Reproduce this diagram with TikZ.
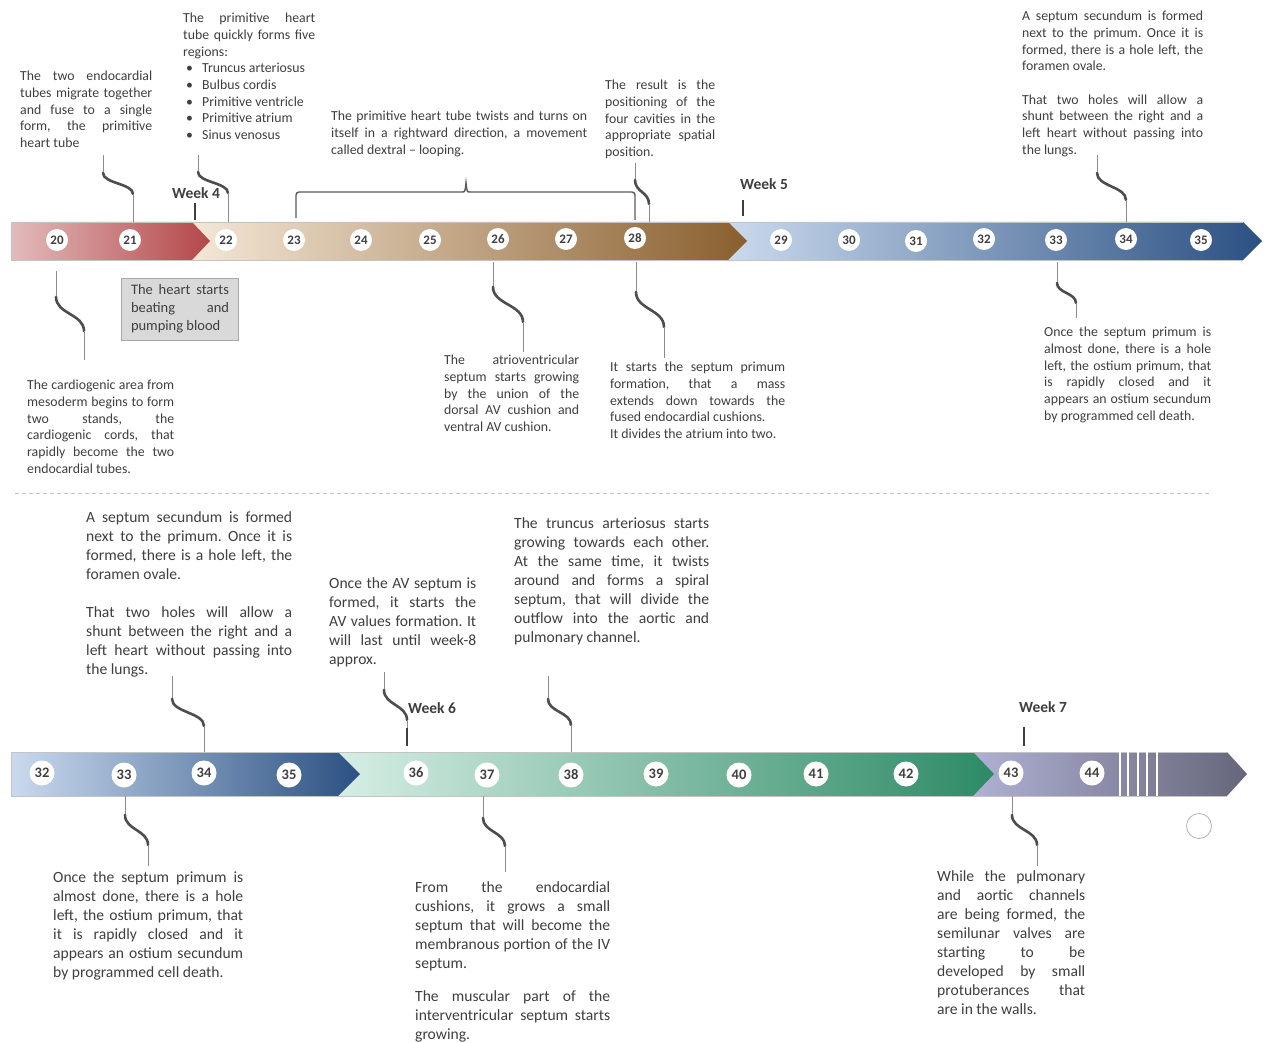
\documentclass[tikz,border=0pt]{standalone}
\usepackage{fontspec}
\setmainfont{Carlito}
\setlength{\parindent}{0pt}
\frenchspacing
\definecolor{txt}{HTML}{3F3F3F}
\definecolor{cthin}{HTML}{8C8C8C}
\definecolor{cthick}{HTML}{4D4D4D}
\definecolor{segln}{HTML}{C4C4C4}
\definecolor{redL}{HTML}{E3BBBB}
\definecolor{redR}{HTML}{B3474A}
\definecolor{begL}{HTML}{F4E7D7}
\definecolor{begR}{HTML}{8A5F2E}
\definecolor{bluL}{HTML}{CADAEE}
\definecolor{bluR}{HTML}{2B5082}
\definecolor{grnL}{HTML}{D6EEE5}
\definecolor{grnR}{HTML}{2D8A66}
\definecolor{purL}{HTML}{B0B0D4}
\definecolor{purR}{HTML}{66667A}
\definecolor{boxF}{HTML}{D9D9D9}
\definecolor{boxD}{HTML}{A6A6A6}
\definecolor{brc}{HTML}{5A5A5A}
\tikzset{
  tsmall/.style={anchor=north west, inner sep=0pt, text width=#1, align=justify,
    font=\fontsize{13.8}{16.7}\selectfont, text=txt},
  tbig/.style={anchor=north west, inner sep=0pt, text width=#1, align=justify,
    font=\fontsize{15.6}{19}\selectfont, text=txt},
  num/.style={circle, fill=white, inner sep=0pt, minimum size=22pt,
    font=\fontsize{13}{13}\selectfont\bfseries, text=txt},
  numb/.style={circle, fill=white, inner sep=0pt, minimum size=25pt,
    font=\fontsize{14.5}{14.5}\selectfont\bfseries, text=txt},
  thinc/.style={draw=cthin, line width=0.8pt},
  thickc/.style={draw=cthick, line width=2.6pt, line cap=round},
  wk/.style={font=\fontsize{15.5}{15.5}\selectfont\bfseries, text=txt, inner sep=0pt},
  wtick/.style={draw=txt, line width=2pt},
  segedge/.style={draw=segln, line width=0.8pt},
}
\newcommand\Sconn[6]{%
  \draw[thinc] (#1,#2) -- (#1,#3);
  \draw[thickc] (#1,#3) .. controls (#1,{(#3+#5)/2}) and (#4,{(#3+#5)/2}) .. (#4,#5);
  \draw[thinc] (#4,#5) -- (#4,#6);
}
\begin{document}
\begin{tikzpicture}[x=1pt,y=-1pt]
\useasboundingbox (0,0) rectangle (1264,1043);
\fill[white] (0,0) rectangle (1264,1043);

% ---------- top bar ----------
\shade[left color=bluL, right color=bluR] (728,222) -- (1243,222) -- (1262,241) -- (1243,260) -- (728,260) -- cycle;
\shade[left color=begL, right color=begR] (192,222) -- (728,222) -- (747,241) -- (728,260) -- (192,260) -- cycle;
\shade[left color=redL, right color=redR] (11,222) -- (192,222) -- (210,241) -- (192,260) -- (11,260) -- cycle;
\draw[segedge] (11,260) -- (11,222) -- (1243,222);
\draw[segedge] (11,260) -- (1243,260);

\node[num] (t20) at (57,240) {20};
\node[num] (t21) at (130,240) {21};
\node[num] (t22) at (226,240) {22};
\node[num] (t23) at (294,240) {23};
\node[num] (t24) at (361,240) {24};
\node[num] (t25) at (430,240) {25};
\node[num] (t26) at (498,239) {26};
\node[num] (t27) at (566,239) {27};
\node[num] (t28) at (635,238) {28};
\node[num] (t29) at (781,240) {29};
\node[num] (t30) at (849,240) {30};
\node[num] (t31) at (916,241) {31};
\node[num] (t32) at (984,239) {32};
\node[num] (t33) at (1056,240) {33};
\node[num] (t34) at (1126,239) {34};
\node[num] (t35) at (1201,240) {35};

% week markers top
\node[wk] (w4) at (196,193) {Week 4};
\draw[wtick] (195,203) -- (195,220);
\node[wk] (w5) at (764,184) {Week 5};
\draw[wtick] (743,200) -- (743,216);

% brace over 23-28
\draw[brc, line width=1.4pt, rounded corners=3pt] (296,218) -- (296,192) -- (462,192);
\draw[brc, line width=1.4pt] (462,192) .. controls (465,192) .. (466,183) .. controls (467,192) .. (470,192);
\draw[brc, line width=1.4pt, rounded corners=3pt] (470,192) -- (635,192) -- (635,220);

% connectors top row
\Sconn{103}{155}{173}{133}{194}{222}
\Sconn{198}{155}{172}{228}{193}{222}
\Sconn{635}{163}{180}{649}{204}{222}
\Sconn{1097}{155}{173}{1126}{200}{222}
\Sconn{56}{271}{297}{84}{331}{360}
\Sconn{493}{262}{287}{523}{322}{352}
\Sconn{636}{262}{292}{664}{327}{358}
\Sconn{1057}{262}{283}{1076}{303}{318}

% top texts
\node[tsmall=132pt] (tA) at (20,71) {The two endocardial\linebreak tubes migrate together\linebreak and fuse to a single\linebreak form, the primitive\linebreak heart tube};
\node[tsmall=132pt] (tB) at (183,13) {The primitive heart\linebreak tube quickly forms five\linebreak regions:\par
\hspace*{3pt}\makebox[16pt][l]{\textbullet}Truncus arteriosus\par
\hspace*{3pt}\makebox[16pt][l]{\textbullet}Bulbus cordis\par
\hspace*{3pt}\makebox[16pt][l]{\textbullet}Primitive ventricle\par
\hspace*{3pt}\makebox[16pt][l]{\textbullet}Primitive atrium\par
\hspace*{3pt}\makebox[16pt][l]{\textbullet}Sinus venosus};
\node[tsmall=256pt] (tC) at (331,111) {The primitive heart tube twists and turns on\linebreak itself in a rightward direction, a movement\linebreak called dextral – looping.};
\node[tsmall=110pt] (tD) at (605,80) {The result is the\linebreak positioning of the\linebreak four cavities in the\linebreak appropriate spatial\linebreak position.};
\node[tsmall=181pt] (tE) at (1022,11) {A septum secundum is formed\linebreak next to the primum. Once it is\linebreak formed, there is a hole left, the\linebreak foramen ovale.\par\vspace{16.7pt}That two holes will allow a\linebreak shunt between the right and a\linebreak left heart without passing into\linebreak the lungs.};
\node[draw=boxD, fill=boxF, line width=0.8pt, minimum width=117pt, minimum height=62pt,
  text width=98pt, align=justify, inner sep=0pt, font=\fontsize{14.5}{18}\selectfont, text=txt]
  (tF) at (180,309) {The heart starts\linebreak beating and\linebreak pumping blood};
\node[tsmall=147pt] (tG) at (27,380) {The cardiogenic area from\linebreak mesoderm begins to form\linebreak two stands, the\linebreak cardiogenic cords, that\linebreak rapidly become the two\linebreak endocardial tubes.};
\node[tsmall=135pt] (tH) at (444,355) {The atrioventricular\linebreak septum starts growing\linebreak by the union of the\linebreak dorsal AV cushion and\linebreak ventral AV cushion.};
\node[tsmall=175pt] (tI) at (610,362) {It starts the septum primum\linebreak formation, that a mass\linebreak extends down towards the\linebreak fused endocardial cushions.\par It divides the atrium into two.};
\node[tsmall=167pt] (tJ) at (1044,327) {Once the septum primum is\linebreak almost done, there is a hole\linebreak left, the ostium primum, that\linebreak is rapidly closed and it\linebreak appears an ostium secundum\linebreak by programmed cell death.};

% separator
\draw[segln, line width=1pt, dash pattern=on 4pt off 3pt] (15,493) -- (1210,493);

% ---------- bottom bar ----------
\shade[left color=purL, right color=purR] (973,752) -- (1227,752) -- (1247,774) -- (1227,796) -- (973,796) -- cycle;
\shade[left color=grnL, right color=grnR] (338,752) -- (973,752) -- (994,774) -- (973,796) -- (338,796) -- cycle;
\shade[left color=bluL, right color=bluR] (11,752) -- (338,752) -- (360,774) -- (338,796) -- (11,796) -- cycle;
\draw[segedge] (11,796) -- (11,752) -- (1227,752);
\draw[segedge] (11,796) -- (1227,796);
\foreach \xx/\yy in {1120/750, 1128/752, 1138/752, 1147/747, 1157/752}
  \draw[white, line width=1.6pt] (\xx,\yy) -- (\xx,796);

\node[numb] (b32) at (42,773) {32};
\node[numb] (b33) at (124,775) {33};
\node[numb] (b34) at (204,773) {34};
\node[numb] (b35) at (289,775) {35};
\node[numb] (b36) at (416,773) {36};
\node[numb] (b37) at (487,775) {37};
\node[numb] (b38) at (571,775) {38};
\node[numb] (b39) at (656,774) {39};
\node[numb] (b40) at (739,775) {40};
\node[numb] (b41) at (816,774) {41};
\node[numb] (b42) at (906,774) {42};
\node[numb] (b43) at (1011,773) {43};
\node[numb] (b44) at (1092,773) {44};

\node[circle, draw=gray!60, line width=0.8pt, minimum size=25pt, inner sep=0pt] (empty) at (1199,826) {};

% week markers bottom
\node[wk] (w6) at (432,708) {Week 6};
\draw[wtick] (407,728) -- (407,746);
\node[wk] (w7) at (1043,707) {Week 7};
\draw[wtick] (1024,727) -- (1024,746);

% connectors bottom row
\Sconn{172}{676}{699}{204}{726}{752}
\Sconn{384}{672}{690}{407}{720}{728}
\Sconn{548}{676}{699}{571}{725}{752}
\Sconn{125}{796}{815}{148}{845}{866}
\Sconn{483}{796}{818}{505}{846}{872}
\Sconn{1012}{796}{815}{1037}{845}{866}

% bottom texts
\node[tbig=206pt] (tK) at (86,511) {A septum secundum is formed\linebreak next to the primum. Once it is\linebreak formed, there is a hole left, the\linebreak foramen ovale.\par\vspace{19pt}That two holes will allow a\linebreak shunt between the right and a\linebreak left heart without passing into\linebreak the lungs.};
\node[tbig=147pt] (tL) at (329,577) {Once the AV septum is\linebreak formed, it starts the\linebreak AV values formation. It\linebreak will last until week-8\linebreak approx.};
\node[tbig=195pt] (tM) at (514,517) {The truncus arteriosus starts\linebreak growing towards each other.\linebreak At the same time, it twists\linebreak around and forms a spiral\linebreak septum, that will divide the\linebreak outflow into the aortic and\linebreak pulmonary channel.};
\node[tbig=190pt] (tN) at (53,871) {Once the septum primum is\linebreak almost done, there is a hole\linebreak left, the ostium primum, that\linebreak it is rapidly closed and it\linebreak appears an ostium secundum\linebreak by programmed cell death.};
\node[tbig=195pt] (tO) at (415,881) {From the endocardial\linebreak cushions, it grows a small\linebreak septum that will become the\linebreak membranous portion of the IV\linebreak septum.\par\vspace{14pt}The muscular part of the\linebreak interventricular septum starts\linebreak growing.};
\node[tbig=148pt] (tP) at (937,870) {While the pulmonary\linebreak and aortic channels\linebreak are being formed, the\linebreak semilunar valves are\linebreak starting to be\linebreak developed by small\linebreak protuberances that\linebreak are in the walls.};
\end{tikzpicture}
\end{document}
